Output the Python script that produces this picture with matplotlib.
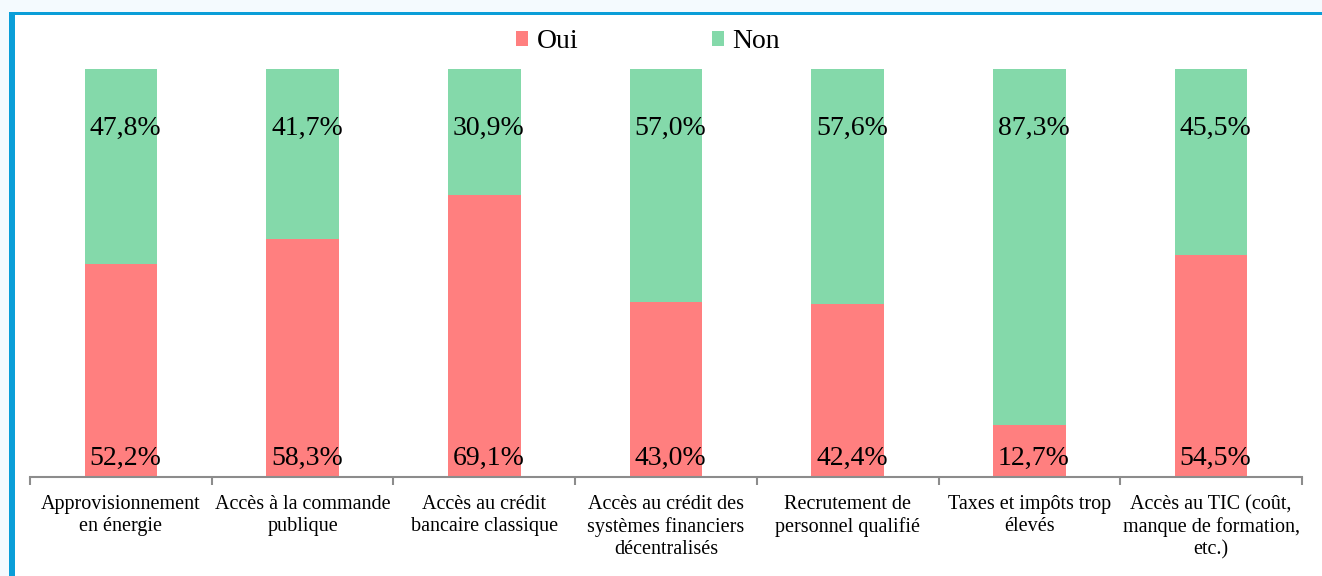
import matplotlib
matplotlib.use("Agg")
import matplotlib.pyplot as plt
from matplotlib.patches import Rectangle
import numpy as np

categories = [
    "Approvisionnement\nen énergie",
    "Accès à la commande\npublique",
    "Accès au crédit\nbancaire classique",
    "Accès au crédit des\nsystèmes financiers\ndécentralisés",
    "Recrutement de\npersonnel qualifié",
    "Taxes et impôts trop\nélevés",
    "Accès au TIC (coût,\nmanque de formation,\netc.)",
]
oui = [52.2, 58.3, 69.1, 43.0, 42.4, 12.7, 54.5]
non = [47.8, 41.7, 30.9, 57.0, 57.6, 87.3, 45.5]

RED = "#FF7F7F"
GREEN = "#84D9AA"
BLUE = "#0A9ED8"
FONT = "Liberation Serif"

W, H = 1322, 576
fig = plt.figure(figsize=(W / 100, H / 100), dpi=100, facecolor="#F4FAFE")

# background panel: white area framed by a blue line on the left and top
bg = fig.add_axes([0, 0, 1, 1], zorder=-10)
bg.set_xlim(0, W)
bg.set_ylim(H, 0)
bg.axis("off")
bg.add_patch(Rectangle((12, 14), W, H, facecolor="white", edgecolor="none"))
bg.add_patch(Rectangle((9, 12), 6, H, facecolor=BLUE, edgecolor="none"))
bg.add_patch(Rectangle((9, 12), W, 3, facecolor=BLUE, edgecolor="none"))

ax = fig.add_axes([30 / W, 1 - 477 / H, (1302 - 30) / W, (477 - 69) / H], zorder=1)
ax.set_facecolor("none")

x = np.arange(len(categories))
width = 0.40
b1 = ax.bar(x, oui, width, color=RED, label="Oui", zorder=2)
b2 = ax.bar(x, non, width, bottom=oui, color=GREEN, label="Non", zorder=2)

for xi, o, n in zip(x, oui, non):
    ax.text(xi + 0.025, 4.5, f"{o:.1f}%".replace(".", ","), ha="center", va="center",
            fontsize=20, family=FONT, color="black", zorder=3)
    ax.text(xi + 0.025, 85.5, f"{n:.1f}%".replace(".", ","), ha="center", va="center",
            fontsize=20, family=FONT, color="black", zorder=3)

ax.set_xlim(-0.5, len(categories) - 0.5)
ax.set_ylim(0, 100)
ax.set_yticks([])
for s in ["top", "right", "left"]:
    ax.spines[s].set_visible(False)
ax.spines["bottom"].set_color("#8C8C8C")
ax.spines["bottom"].set_linewidth(1.5)

ax.set_xticks(x)
ax.set_xticklabels(categories, family=FONT, fontsize=14.5, linespacing=1.22)
ax.tick_params(axis="x", which="major", length=0, pad=13)
ax.set_xticks(np.arange(-0.5, len(categories)), minor=True)
ax.tick_params(axis="x", which="minor", length=6, width=1.5, color="#8C8C8C", direction="out")

leg = fig.legend(handles=[b1, b2], labels=["Oui", "Non"], loc="center",
                 bbox_to_anchor=(648 / W, 1 - 42 / H), ncol=2, frameon=False,
                 prop={"family": FONT, "size": 20}, handlelength=0.45, handleheight=0.45,
                 handletextpad=0.3, columnspacing=4.8)

fig.savefig("out.png", dpi=100, facecolor=fig.get_facecolor())
